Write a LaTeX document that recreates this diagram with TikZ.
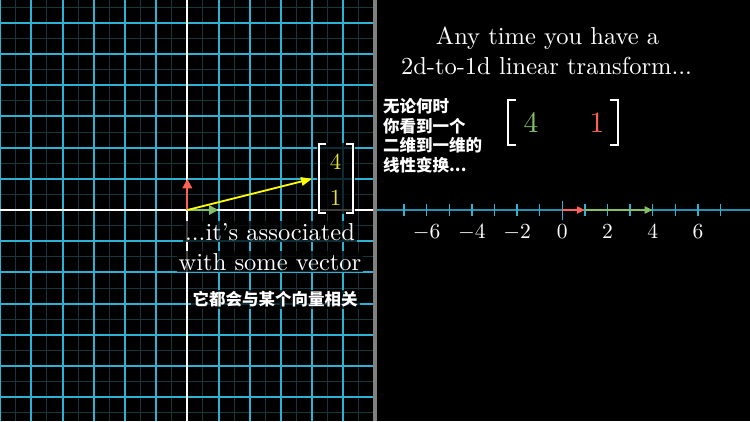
\documentclass[tikz,border=0pt]{standalone}
\usepackage{fontspec}
\newfontfamily\cjk{Noto Sans CJK SC}
\usetikzlibrary{arrows.meta}
\definecolor{gridblue}{RGB}{45,178,212}
\definecolor{minorgrid}{RGB}{24,54,60}
\definecolor{nlblue}{RGB}{36,145,175}
\definecolor{mred}{RGB}{252,98,85}
\definecolor{mgreen}{RGB}{131,193,103}
\definecolor{myellow}{RGB}{255,255,0}
\definecolor{entryyellow}{RGB}{232,228,60}
\definecolor{divgray}{RGB}{128,128,128}
\tikzset{
  minorline/.style={draw=minorgrid,line width=1pt},
  majorline/.style={draw=gridblue,line width=2pt},
  axisline/.style={draw=white,line width=2pt},
  vecarrow/.style={line width=1.8pt,-{Triangle[length=9.5pt,width=9.5pt]}},
  nlarrow/.style={line width=1.8pt,-{Triangle[length=8pt,width=7pt]}},
  bracketline/.style={draw=white,line width=2pt},
  bgbox/.style={fill=black,fill opacity=0.75,text opacity=1,inner sep=2pt},
  lbl/.style={text=white,inner sep=0pt},
}
\begin{document}
\begin{tikzpicture}[x=1pt,y=-1pt]
\fill[black] (0,0) rectangle (750,421);
\useasboundingbox (0,0) rectangle (750,421);
% ---------- left plane ----------
\foreach \k in {-6,...,5} {\draw[minorline] ({187.3+31.2*\k+15.6},0) -- ({187.3+31.2*\k+15.6},421);}
\foreach \k in {-7,...,6} {\draw[minorline] (0,{210+31.2*\k+15.6}) -- (373,{210+31.2*\k+15.6});}
\foreach \k in {-6,-5,-4,-3,-2,-1,1,2,3,4,5} {\draw[majorline] ({187.3+31.2*\k},0) -- ({187.3+31.2*\k},421);}
\foreach \k in {-6,-5,-4,-3,-2,-1,1,2,3,4,5,6} {\draw[majorline] (0,{210+31.2*\k}) -- (373,{210+31.2*\k});}
\draw[axisline] (187.3,0) -- (187.3,421);
\draw[axisline] (0,210) -- (373,210);
\coordinate (O) at (187.3,210);
\coordinate (I) at (218.5,210);
\coordinate (J) at (187.3,178.8);
\coordinate (V) at (312.1,178.8);
\draw[vecarrow,mgreen] (O) -- (I);
\draw[vecarrow,mred] (O) -- (J);
\draw[vecarrow,myellow,-{Triangle[length=11pt,width=8.5pt]}] (O) -- (V);
% column matrix
\fill[black,opacity=0.75] (317,143) rectangle (354.5,214);
\draw[bracketline] (326,144) -- (318.5,144) -- (318.5,213) -- (326,213);
\draw[bracketline] (345.5,144) -- (353,144) -- (353,213) -- (345.5,213);
\node[lbl,text=entryyellow] (c4) at (335.7,162) {\scalebox{2.3}{4}};
\node[lbl,text=entryyellow] (c1) at (335.7,197.5) {\scalebox{2.3}{1}};
% left texts
\node[bgbox,anchor=base,text=white] (t1) at (270,240) {\scalebox{2.45}{...it's associated}};
\node[bgbox,anchor=base,text=white] (t2) at (270,270) {\scalebox{2.45}{with some vector}};
\node[bgbox,text=white,font=\cjk\bfseries\fontsize{16.5}{18}\selectfont] (t3) at (275,299.5) {它都会与某个向量相关};
% divider
\fill[divgray] (373,0) rectangle (376.5,421);
% ---------- right panel ----------
\node[lbl,anchor=base] (h1) at (547.5,44) {\scalebox{2.45}{Any time you have a}};
\node[lbl,anchor=base] (h2) at (546.5,74) {\scalebox{2.45}{2d-to-1d linear transform...}};
\begin{scope}[every node/.style={lbl,anchor=west,font=\cjk\bfseries\fontsize{16.5}{18}\selectfont}]
\node (z1) at (383,106.3) {无论何时};
\node (z2) at (383,125.8) {你看到一个};
\node (z3) at (383,145.4) {二维到一维的};
\node (z4) at (383,165) {线性变换...};
\end{scope}
% row matrix
\draw[bracketline] (516,100) -- (507.5,100) -- (507.5,145) -- (516,145);
\draw[bracketline] (609.5,100) -- (618,100) -- (618,145) -- (609.5,145);
\node[lbl,text=mgreen] (m4) at (531,123) {\scalebox{2.95}{4}};
\node[lbl,text=mred] (m1) at (597,123) {\scalebox{2.95}{1}};
% number line
\draw[nlblue,line width=2pt] (376.5,210) -- (750,210);
\foreach \n in {-7,...,7} {\draw[gridblue,line width=1.3pt] ({562.3+22.6*\n},204) -- ({562.3+22.6*\n},216);}
\draw[gridblue,line width=1.3pt] (562.3,200.5) -- (562.3,219.5);
\foreach \n in {-6,-4,-2,0,2,4,6} {\node[lbl] at ({562.3+22.6*\n},232) {\scalebox{2.15}{$\n$}};}
\coordinate (N0) at (562.3,210);
\coordinate (N1) at (584.9,210);
\coordinate (N4) at (652.7,210);
\draw[nlarrow,mred] (N0) -- (N1);
\draw[nlarrow,mgreen] (N1) -- (N4);
\end{tikzpicture}
\end{document}
